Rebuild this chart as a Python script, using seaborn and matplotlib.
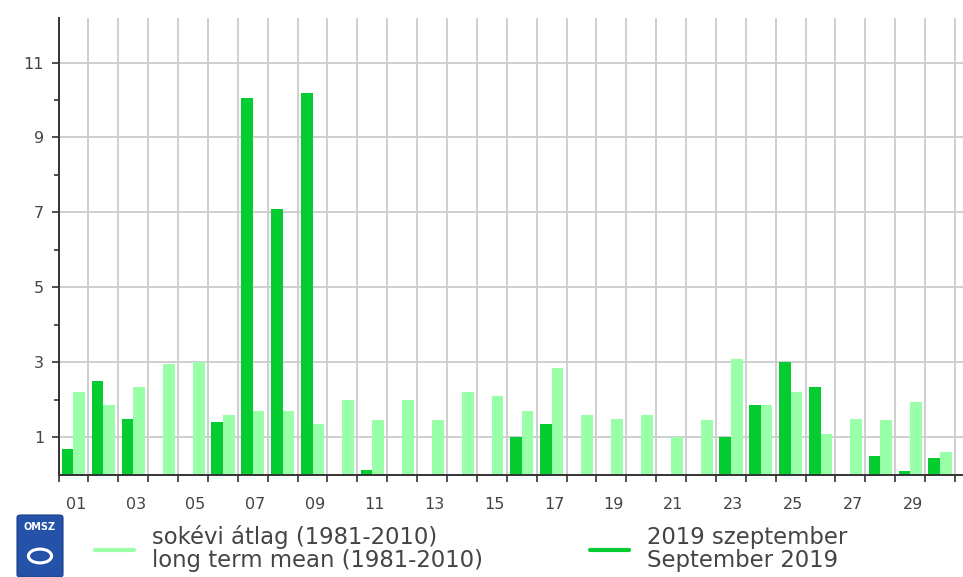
import matplotlib
matplotlib.use("Agg")
import matplotlib.pyplot as plt
import seaborn as sns
import pandas as pd
import numpy as np
from matplotlib.lines import Line2D
from matplotlib.patches import FancyBboxPatch

# ---- data ----
days = [f"{d:02d}" for d in range(1, 31)]
current_2019 = [0.7, 2.5, 1.5, 0.0, 0.0, 1.4, 10.05, 7.1, 10.2, 0.0,
                0.13, 0.0, 0.0, 0.0, 0.0, 1.0, 1.35, 0.0, 0.0, 0.0,
                0.0, 0.0, 1.0, 1.85, 3.0, 2.35, 0.0, 0.5, 0.1, 0.45]
long_term_mean = [2.2, 1.85, 2.35, 2.95, 3.0, 1.6, 1.7, 1.7, 1.35, 2.0,
                  1.45, 2.0, 1.45, 2.2, 2.1, 1.7, 2.85, 1.6, 1.5, 1.6,
                  1.0, 1.45, 3.1, 1.85, 2.2, 1.1, 1.5, 1.45, 1.95, 0.6]
series_names = ["2019 szeptember\nSeptember 2019",
                "sokévi átlag (1981-2010)\nlong term mean (1981-2010)"]
yticks_major = [1, 3, 5, 7, 9, 11]
yticks_minor = [2, 4, 6, 8, 10]
xlabel_days = days[0::2]

dark = "#05CC30"
light = "#99FFA8"
txt = "#444444"

df = pd.DataFrame({
    "day": days * 2,
    "value": current_2019 + long_term_mean,
    "series": [series_names[0]] * 30 + [series_names[1]] * 30,
})

sns.set_style("white")
plt.rcParams["font.family"] = ["DejaVu Sans"]

fig = plt.figure(figsize=(9.63, 5.77), dpi=100)
ax = fig.add_axes([58.5 / 963, 1 - 474.8 / 577, 1 - 58.5 / 963, (474.8 - 18.3) / 577])

sns.barplot(data=df, x="day", y="value", hue="series", hue_order=series_names,
            order=days, palette=[dark, light], width=0.78, dodge=True,
            errorbar=None, linewidth=0, saturation=1, ax=ax, legend=False, zorder=3)

ax.set_xlim(-0.5, 29.5 + 8 / 29.88)
ax.set_ylim(0, 12.18)
ax.set_xlabel("")
ax.set_ylabel("")

# x: major ticks at day boundaries (grid), labels at odd days (minor)
ax.set_xticks(np.arange(-0.5, 30.0, 1.0))
ax.set_xticklabels([])
ax.set_xticks([days.index(d) + 0.08 for d in xlabel_days], minor=True)
ax.set_xticklabels(xlabel_days, minor=True)
ax.tick_params(axis="x", which="major", direction="out", length=4.8, width=1.2,
               color="#333333", bottom=True)
ax.tick_params(axis="x", which="minor", length=0, pad=16, labelsize=11.5,
               labelcolor=txt, bottom=True)

ax.set_yticks(yticks_major)
ax.set_yticklabels([str(v) for v in yticks_major])
ax.set_yticks(yticks_minor, minor=True)
ax.tick_params(axis="y", which="major", direction="out", length=4.8, width=1.2,
               color="#333333", pad=5.5, labelsize=11.5, labelcolor=txt, left=True)
ax.tick_params(axis="y", which="minor", direction="out", length=3.6, width=1.2,
               color="#333333", left=True)

ax.grid(True, which="major", axis="both", color="#cccccc", linewidth=1.3, zorder=0)
ax.set_axisbelow(True)
for s in ["top", "right"]:
    ax.spines[s].set_visible(False)
for s in ["left", "bottom"]:
    ax.spines[s].set_color("#333333")
    ax.spines[s].set_linewidth(1.4)
    ax.spines[s].set_zorder(5)

# ---- legend (manual, below plot) ----
H, W = 577, 963
def fx(px): return px / W
def fy(py): return 1 - py / H

fig.add_artist(Line2D([fx(95), fx(134)], [fy(550), fy(550)], color=light, linewidth=3))
fig.add_artist(Line2D([fx(590), fx(629)], [fy(550), fy(550)], color=dark, linewidth=3))
fs = 16.4
fig.text(fx(152), fy(544), "sokévi átlag (1981-2010)", fontsize=fs, color=txt, va="baseline")
fig.text(fx(152), fy(567), "long term mean (1981-2010)", fontsize=fs, color=txt, va="baseline")
fig.text(fx(647), fy(544), "2019 szeptember", fontsize=fs, color=txt, va="baseline")
fig.text(fx(647), fy(567), "September 2019", fontsize=fs, color=txt, va="baseline")

# logo placeholder (OMSZ shield)
logo = FancyBboxPatch((fx(17), fy(577)), fx(46), (577 - 515) / H,
                      boxstyle="round,pad=0,rounding_size=0.004",
                      transform=fig.transFigure, facecolor="#2452A8",
                      edgecolor="#1a3f8a", linewidth=0.8)
fig.add_artist(logo)
fig.text(fx(40), fy(527), "OMSZ", fontsize=7, color="white", ha="center",
         va="center", fontweight="bold")
fig.add_artist(matplotlib.patches.Circle((fx(40), fy(556)), 0.012,
                                         transform=fig.transFigure,
                                         facecolor="none", edgecolor="white",
                                         linewidth=2.2))

fig.savefig("out.png", dpi=100)
